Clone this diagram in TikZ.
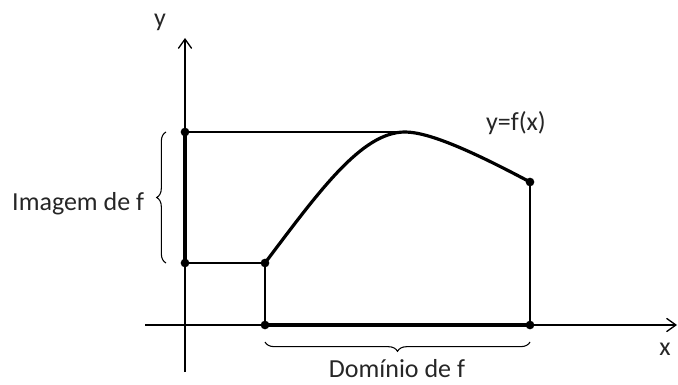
\documentclass[tikz,border=0pt]{standalone}
\usepackage{fontspec}
\setmainfont{Carlito}
\usetikzlibrary{arrows.meta,decorations.pathreplacing}

\begin{document}
\begin{tikzpicture}[x=0.75pt, y=-0.75pt, line width=0.8pt,
    dot/.style={circle, fill=black, inner sep=0pt, minimum size=6.5pt},
    lbl/.style={font=\fontsize{19.5}{22}\selectfont, text=black!85},
    thick line/.style={line width=3pt}]
  \useasboundingbox (0,0) rectangle (678,385);
  % axes
  \coordinate (yS) at (185,372);
  \coordinate (yE) at (185,38);
  \coordinate (xS) at (145,325);
  \coordinate (xE) at (677,325);
  \draw[line width=1pt, -{Straight Barb[length=7pt,width=10pt]}] (yS) -- (yE);
  \draw[line width=1pt, -{Straight Barb[length=7pt,width=10pt]}] (xS) -- (xE);
  \node[lbl] (ylab) at (160,22) {y};
  \node[lbl] (xlab) at (665,349) {x};
  % points
  \node[dot] (yTop) at (185,132) {};
  \node[dot] (yBot) at (185,263) {};
  \node[dot] (fA) at (265,263) {};
  \node[dot] (fC) at (530,182) {};
  \node[dot] (xA) at (265,325) {};
  \node[dot] (xC) at (530,325) {};
  \coordinate (peak) at (405,132);
  % guide lines
  \draw (yTop.center) -- (peak);
  \draw (yBot.center) -- (fA.center);
  \draw (fA.center) -- (xA.center);
  \draw (fC.center) -- (xC.center);
  % image and domain
  \draw[thick line] (yTop.center) -- (yBot.center);
  \draw[thick line] (xA.center) -- (xC.center);
  % graph of f
  \draw[line width=2.4pt] (fA.center) .. controls (320,190) and (362,132) .. (peak)
    .. controls (428,132) and (470,150) .. (fC.center);
  \node[lbl] (flab) at (516,123) {y=f(x)};
  % braces
  \draw[decorate, decoration={brace, amplitude=7pt}, line width=0.8pt]
    (166,263) -- (166,132);
  \node[lbl, anchor=east] (imlab) at (149,204) {Imagem de f};
  \draw[decorate, decoration={brace, amplitude=7pt, mirror}, line width=0.8pt]
    (265,342) -- (530,342);
  \node[lbl] (domlab) at (397,369) {Domínio de f};
\end{tikzpicture}
\end{document}
